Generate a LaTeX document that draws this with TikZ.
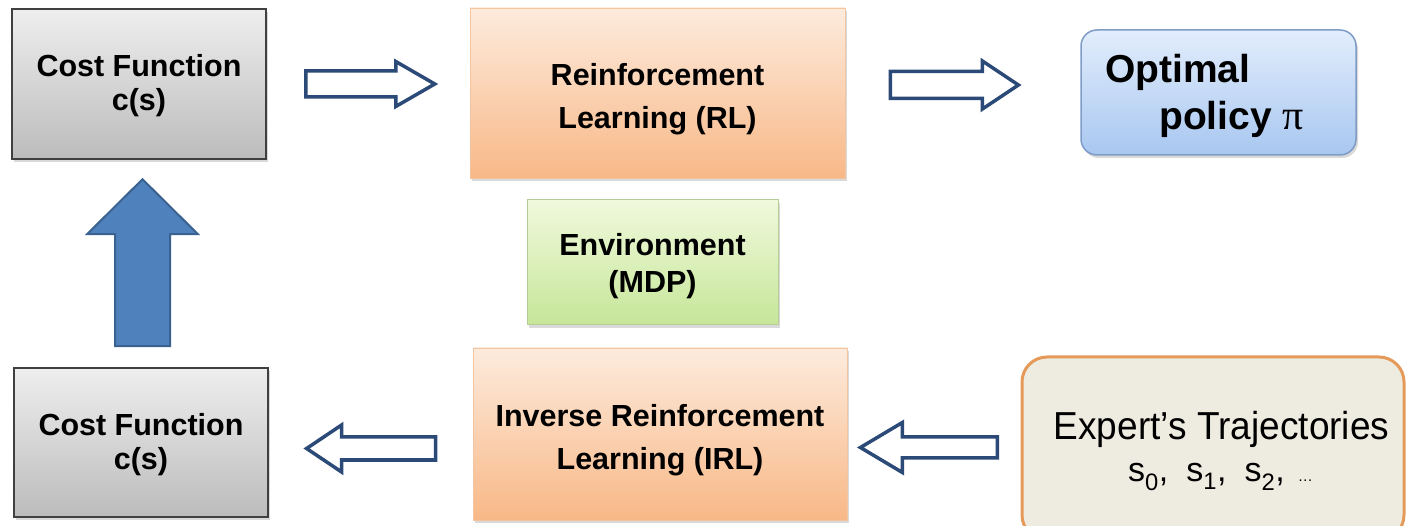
\documentclass[tikz,border=0pt]{standalone}
\usepackage{fontspec}
\setmainfont{Liberation Sans}
\newfontfamily\narrowfont[FakeStretch=0.95]{Liberation Sans}
\newfontfamily\greekfont{Liberation Serif}
\usetikzlibrary{shadows,calc}

\definecolor{navy}{HTML}{2B4A78}
\definecolor{upfill}{HTML}{4F81BD}
\definecolor{upline}{HTML}{3A6291}
\definecolor{grayedge}{HTML}{404040}
\definecolor{graytop}{HTML}{EEEEEE}
\definecolor{graybot}{HTML}{BCBCBC}
\definecolor{orangetop}{HTML}{FDEBDD}
\definecolor{orangebot}{HTML}{F8B887}
\definecolor{orangeedge}{HTML}{F2C4A0}
\definecolor{greentop}{HTML}{F0F9DC}
\definecolor{greenbot}{HTML}{C6E699}
\definecolor{greenedge}{HTML}{B5CE98}
\definecolor{bluetop}{HTML}{E2EDFC}
\definecolor{bluebot}{HTML}{A8C7F0}
\definecolor{blueedge}{HTML}{7F9CC6}
\definecolor{expfill}{HTML}{EEEBE0}
\definecolor{expedge}{HTML}{E59A5A}

% straight block arrow along the direction #3, starting at #2
% #4 length, #5 shaft half-width, #6 head half-width, #7 head length
\newcommand\blockarrow[7]{%
  \draw[#1,shift={(#2)},rotate=#3]
    (0,-#5) -- ({#4-#7},-#5) -- ({#4-#7},-#6) -- (#4,0)
    -- ({#4-#7},#6) -- ({#4-#7},#5) -- (0,#5) -- cycle;}

\tikzset{
  box/.style={rectangle, inner sep=0pt,
    drop shadow={opacity=0.3, shadow xshift=2pt, shadow yshift=-3pt}},
  graybox/.style={box, draw=grayedge, line width=1.5pt,
    top color=graytop, bottom color=graybot},
  orangebox/.style={box, draw=orangeedge, line width=0.8pt,
    top color=orangetop, bottom color=orangebot},
  greenbox/.style={box, draw=greenedge, line width=1pt,
    top color=greentop, bottom color=greenbot},
  bluebox/.style={box, draw=blueedge, line width=1.5pt, rounded corners=16pt,
    top color=bluetop, bottom color=bluebot},
  expbox/.style={rectangle, draw=expedge, line width=3pt, rounded corners=25pt,
    fill=expfill},
  boxtext/.style={inner sep=0pt, align=center, text=black,
    font=\bfseries\fontsize{30.5}{#1}\selectfont},
  hollow/.style={draw=navy, fill=white, line width=3.5pt, line join=miter},
  solidup/.style={draw=upline, fill=upfill, line width=2pt, line join=miter},
}

\begin{document}
\begin{tikzpicture}[x=1pt,y=1pt]
\path[use as bounding box] (0,0) rectangle (1406,-526);
\clip (0,0) rectangle (1406,-526);

% boxes
\node[graybox, minimum width=254pt, minimum height=150pt] (cfTop) at (139,-84) {};
\node[orangebox, minimum width=375pt, minimum height=170pt] (rl) at (657.5,-93) {};
\node[bluebox, minimum width=275pt, minimum height=125pt] (opt) at (1218.5,-92.5) {};
\node[greenbox, minimum width=251pt, minimum height=125pt] (env) at (652.5,-262.5) {};
\node[orangebox, minimum width=374pt, minimum height=172pt] (irl) at (660,-434) {};
\node[graybox, minimum width=254pt, minimum height=149pt] (cfBot) at (141,-442.5) {};
\node[expbox, minimum width=382pt, minimum height=183pt] (exp) at (1213,-448.5) {};

% box texts
\node[boxtext=34] (cfTopText) at ($(cfTop.center)+(0,-2)$) {Cost Function\\c(s)};
\node[boxtext=43] (rlText) at ($(rl.center)+(0,-6)$) {Reinforcement\\Learning (RL)};
\node[boxtext=37] (envText) at ($(env.center)+(0,-4)$) {Environment\\(MDP)};
\node[boxtext=43] (irlText) at ($(irl.center)+(0,-6.5)$) {Inverse Reinforcement\\Learning (IRL)};
\node[boxtext=34] (cfBotText) at ($(cfBot.center)+(0,-2.5)$) {Cost Function\\c(s)};
\node[inner sep=0pt, anchor=base west, font=\bfseries\fontsize{39}{39}\selectfont]
  (optLineA) at (1105,-83) {Optimal};
\node[inner sep=0pt, anchor=base west, font=\bfseries\fontsize{39}{39}\selectfont]
  (optLineB) at (1159,-130) {policy {\greekfont\mdseries\fontsize{42}{42}\selectfont π}};
\node[inner sep=0pt, anchor=base, font=\narrowfont\fontsize{39}{39}\selectfont]
  (expLineA) at (1221.5,-440) {Expert’s Trajectories};
\node[inner sep=0pt, anchor=base, font=\fontsize{34}{34}\selectfont]
  (expLineB) at (1220.5,-482)
  {s\textsubscript{0},\hspace{18pt}s\textsubscript{1},\hspace{18pt}s\textsubscript{2},\hspace{13pt}{\fontsize{15}{15}\selectfont …}};

% connectors
\coordinate (a1) at ($(cfTop.east)+(39,0)$);
\coordinate (a2) at ($(rl.east)+(45,8)$);
\coordinate (a3) at ($(irl.west)+(-37,-14.5)$);
\coordinate (a4) at ($(irl.east)+(150,-13.5)$);
\coordinate (a5) at ($(cfBot.north)+(1.5,21)$);

\blockarrow{hollow}{a1}{0}{129}{13}{22.5}{39}
\blockarrow{hollow}{a2}{0}{128}{13.5}{24}{36}
\blockarrow{hollow}{a3}{180}{129}{11.5}{23.5}{35}
\blockarrow{hollow}{a4}{180}{137}{10.5}{25}{42}
\blockarrow{solidup}{a5}{90}{167}{27.5}{55.5}{55}
\end{tikzpicture}
\end{document}
